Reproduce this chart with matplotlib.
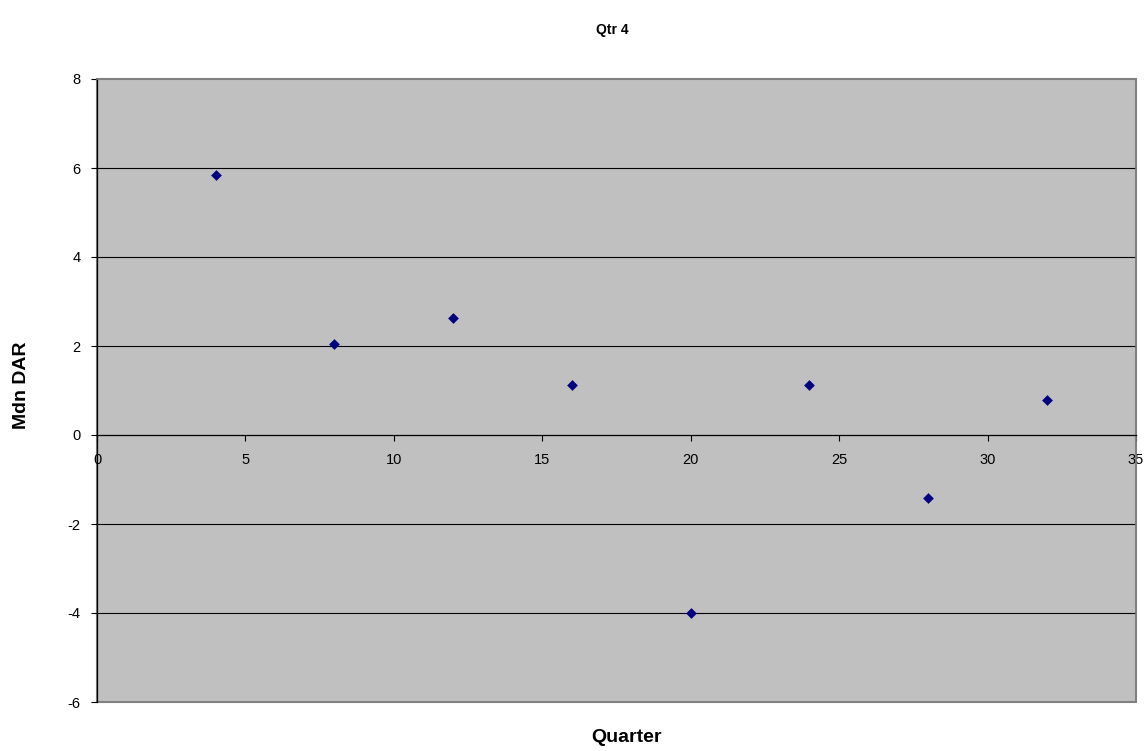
import matplotlib.pyplot as plt
from matplotlib.patches import Rectangle

# data
quarter = [4, 8, 12, 16, 20, 24, 28, 32]
mdn_dar = [5.85, 2.05, 2.63, 1.12, -4.0, 1.13, -1.42, 0.79]

x_ticks = [0, 5, 10, 15, 20, 25, 30, 35]
y_ticks = [-6, -4, -2, 0, 2, 4, 6, 8]

plt.rcParams['font.family'] = ['Liberation Sans', 'DejaVu Sans']
plt.rcParams['axes.unicode_minus'] = False

fig = plt.figure(figsize=(11.48, 7.51), dpi=100)
ax = fig.add_axes([97 / 1148, 1 - 702 / 751, 1039 / 1148, 623 / 751])
ax.set_facecolor('#c0c0c0')

ax.set_xlim(0, 35)
ax.set_ylim(-6, 8)
ax.set_xticks(x_ticks)
ax.set_yticks(y_ticks)

# horizontal gridlines
for y in y_ticks[1:-1]:
    if y != 0:
        ax.axhline(y, color='black', lw=0.8, zorder=1)

ax.scatter(quarter, mdn_dar, marker='D', s=30, color='#000080', zorder=3, linewidths=0)

# spines: x axis crosses at y=0
ax.spines['bottom'].set_position(('data', 0))
ax.spines['bottom'].set_color('black')
ax.spines['bottom'].set_linewidth(0.9)
ax.spines['left'].set_color('black')
ax.spines['left'].set_linewidth(0.9)
for s in ['top', 'right']:
    ax.spines[s].set_color('#808080')
    ax.spines[s].set_linewidth(1.2)
ax.add_patch(Rectangle((0, 0), 1, 1, transform=ax.transAxes, fill=False,
                       edgecolor='#808080', lw=1.5, zorder=0.5, clip_on=False))

ax.tick_params(axis='x', direction='out', length=4, width=0.8, pad=9, labelsize=10.5)
ax.tick_params(axis='y', direction='out', length=4, width=0.8, pad=8, labelsize=10.5)

fig.text(612 / 1148, 1 - 30 / 751, 'Qtr 4', ha='center', va='center',
         fontsize=10, fontweight='bold')
fig.text(626 / 1148, 1 - 737 / 751, 'Quarter', ha='center', va='center',
         fontsize=14, fontweight='bold')
fig.text(22 / 1148, 1 - 385 / 751, 'Mdn DAR', ha='center', va='center',
         rotation=90, fontsize=14, fontweight='bold')

fig.savefig('out.png', dpi=100)
